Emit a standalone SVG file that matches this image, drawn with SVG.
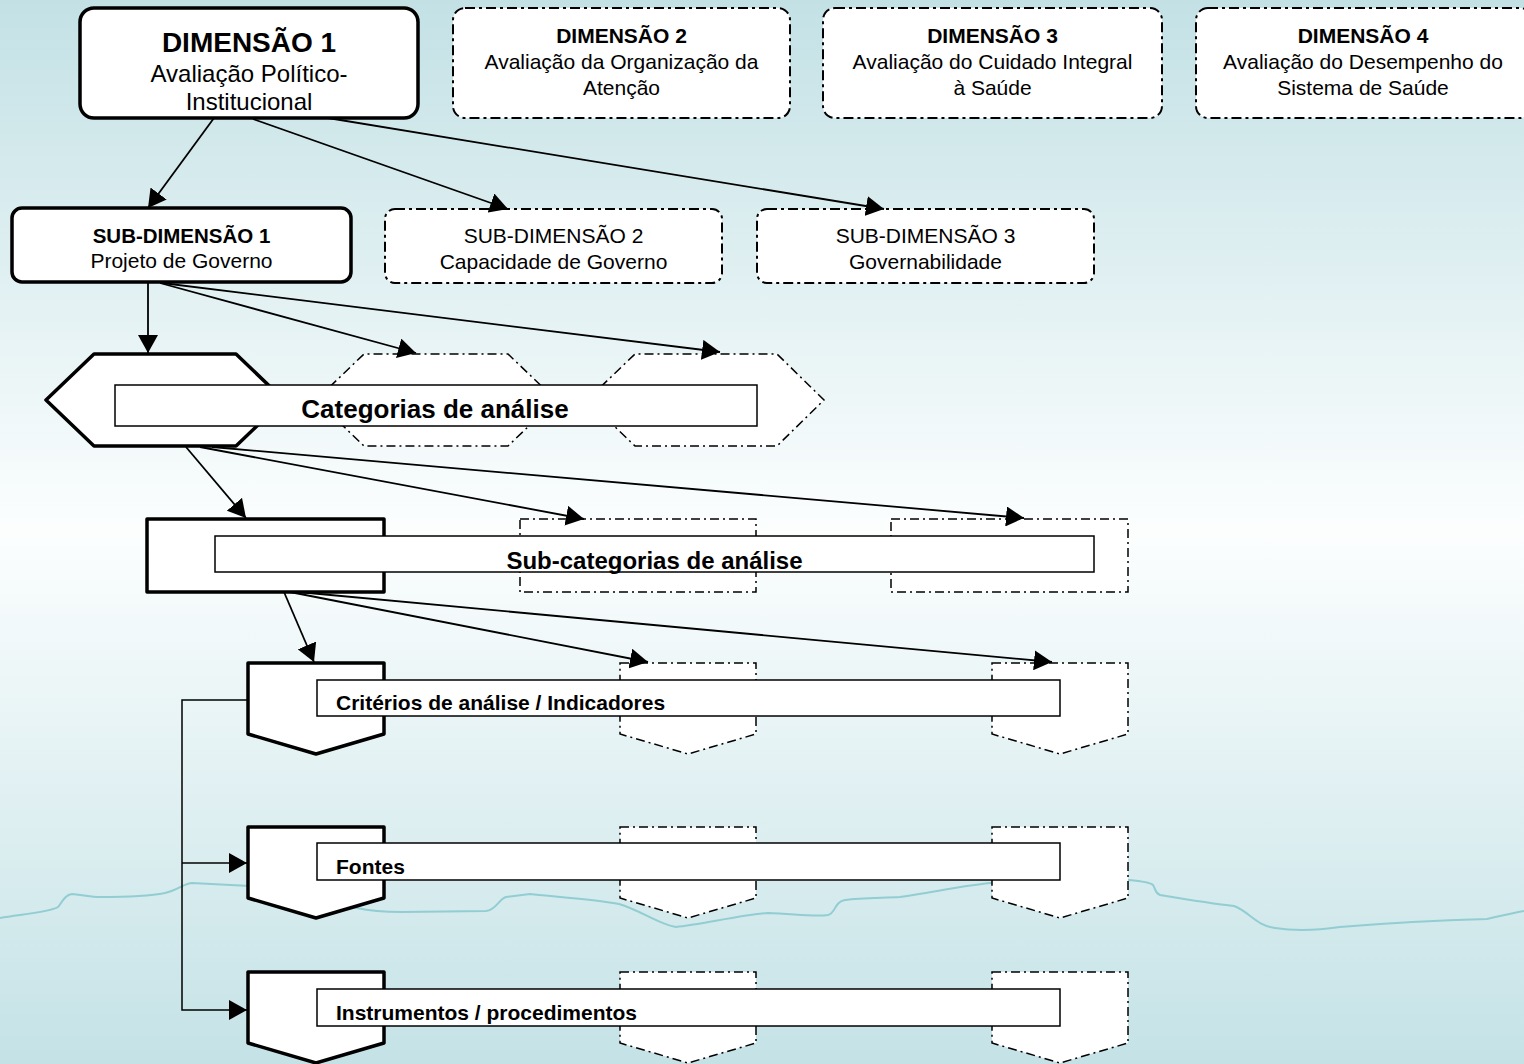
<svg xmlns="http://www.w3.org/2000/svg" width="1524" height="1064" viewBox="0 0 1524 1064">
<defs>
<linearGradient id="bg" x1="0" y1="0" x2="0" y2="1">
<stop offset="0" stop-color="#c3e1e5"/>
<stop offset="0.5" stop-color="#fcfefe"/>
<stop offset="1" stop-color="#c4e2e6"/>
</linearGradient>
<marker id="arr" viewBox="0 0 18 20" refX="18" refY="10" markerWidth="18" markerHeight="20" markerUnits="userSpaceOnUse" orient="auto">
<path d="M0,0 L18,10 L0,20 Z" fill="#000"/>
</marker>
<style>
.solid{fill:#fff;stroke:#000;stroke-width:3.5;stroke-linejoin:round}
.dash{fill:#fff;stroke:#000;stroke-width:2;stroke-dasharray:10 4 3 4}
.dash2{fill:#fff;stroke:#000;stroke-width:1.5;stroke-dasharray:9 4 2 4}
.bar{fill:#fff;stroke:#000;stroke-width:1.5}
.conn{fill:none;stroke:#000;stroke-width:1.8;marker-end:url(#arr)}
.thin{fill:none;stroke:#000;stroke-width:1.5}
text{font-family:"Liberation Sans",Arial,sans-serif;fill:#000}
.c{text-anchor:middle}
.b{font-weight:bold}
</style>
</defs>
<rect x="0" y="0" width="1524" height="1064" fill="url(#bg)"/>
<path d="M0,918 C25,914 50,912 58,907 C62,903 64,895 72,894 C85,895 90,897 100,897 C130,897 150,896 165,893 C178,890 185,883 192,883 L250,886 L357,908 C370,911 385,912 402,912 L486,911 C496,910 499,899 506,897 L530,894 C560,897 600,900 619,904 C640,910 660,925 676,927 C700,925 740,915 768,913 C795,914 815,917 828,915 C836,913 834,902 845,900 C860,898 880,898 900,897 C930,893 960,886 990,883 L1129,880 C1140,881 1150,882 1153,885 C1156,890 1155,893 1160,895 C1190,900 1215,904 1234,906 C1250,912 1255,925 1275,928 C1300,932 1320,930 1340,927 C1400,922 1450,920 1487,919 C1500,916 1512,913 1524,911" fill="none" stroke="#92cdd2" stroke-width="2"/>

<g id="dim1"><rect class="solid" x="80" y="8" width="338" height="110" rx="14"/>
<text class="c b" x="249" y="52" font-size="28">DIMENSÃO 1</text>
<text class="c" x="249" y="82" font-size="24">Avaliação Político-</text>
<text class="c" x="249" y="110" font-size="24">Institucional</text></g>
<g id="dim2"><rect class="dash" x="453" y="8" width="337" height="110" rx="12"/>
<text class="c b" x="621.5" y="43" font-size="21">DIMENSÃO 2</text>
<text class="c" x="621.5" y="69" font-size="21">Avaliação da Organização da</text>
<text class="c" x="621.5" y="95" font-size="21">Atenção</text></g>
<g id="dim3"><rect class="dash" x="823" y="8" width="339" height="110" rx="12"/>
<text class="c b" x="992.5" y="43" font-size="21">DIMENSÃO 3</text>
<text class="c" x="992.5" y="69" font-size="21">Avaliação do Cuidado Integral</text>
<text class="c" x="992.5" y="95" font-size="21">à Saúde</text></g>
<g id="dim4"><rect class="dash" x="1196" y="8" width="336" height="110" rx="12"/>
<text class="c b" x="1363" y="43" font-size="21">DIMENSÃO 4</text>
<text class="c" x="1363" y="69" font-size="21">Avaliação do Desempenho do</text>
<text class="c" x="1363" y="95" font-size="21">Sistema de Saúde</text></g>

<g id="sub1"><rect class="solid" x="12" y="208" width="339" height="74" rx="10"/>
<text class="c b" x="181.5" y="243" font-size="20.5">SUB-DIMENSÃO 1</text>
<text class="c" x="181.5" y="268" font-size="21">Projeto de Governo</text></g>
<g id="sub2"><rect class="dash" x="385" y="209" width="337" height="74" rx="10"/>
<text class="c" x="553.5" y="243" font-size="21">SUB-DIMENSÃO 2</text>
<text class="c" x="553.5" y="269" font-size="21">Capacidade de Governo</text></g>
<g id="sub3"><rect class="dash" x="757" y="209" width="337" height="74" rx="10"/>
<text class="c" x="925.5" y="243" font-size="21">SUB-DIMENSÃO 3</text>
<text class="c" x="925.5" y="269" font-size="21">Governabilidade</text></g>

<g id="cat1"><path class="solid" d="M46,400 L94,354 L236,354 L284,400 L236,446 L94,446 Z"/></g>
<g id="cat2"><path class="dash2" d="M316,400 L364,354 L508,354 L556,400 L508,446 L364,446 Z"/></g>
<g id="cat3"><path class="dash2" d="M587,400 L635,354 L777,354 L824,400 L777,446 L635,446 Z"/></g>
<g id="cat-label"><rect class="bar" x="115" y="385" width="642" height="41"/>
<text class="c b" x="435" y="418" font-size="26">Categorias de análise</text></g>

<g id="subcat1"><rect class="solid" x="147" y="519" width="237" height="73"/></g>
<g id="subcat2"><rect class="dash2" x="520" y="519" width="236" height="73"/></g>
<g id="subcat3"><rect class="dash2" x="891" y="519" width="237" height="73"/></g>
<g id="subcat-label"><rect class="bar" x="215" y="536" width="879" height="36"/>
<text class="c b" x="654.5" y="569" font-size="24">Sub-categorias de análise</text></g>

<g id="crit1"><path class="solid" d="M248,663 H384 V734 L316,754 L248,734 Z"/></g>
<g id="crit2"><path class="dash2" d="M620,663 H756 V734 L688,754 L620,734 Z"/></g>
<g id="crit3"><path class="dash2" d="M992,663 H1128 V734 L1060,754 L992,734 Z"/></g>
<g id="crit-label"><rect class="bar" x="317" y="680" width="743" height="36"/>
<text class="b" x="336" y="710" font-size="21">Critérios de análise / Indicadores</text></g>

<g id="font1"><path class="solid" d="M248,827 H384 V898 L316,918 L248,898 Z"/></g>
<g id="font2"><path class="dash2" d="M620,827 H756 V898 L688,918 L620,898 Z"/></g>
<g id="font3"><path class="dash2" d="M992,827 H1128 V898 L1060,918 L992,898 Z"/></g>
<g id="font-label"><rect class="bar" x="317" y="843" width="743" height="37"/>
<text class="b" x="336" y="874" font-size="21">Fontes</text></g>

<g id="inst1"><path class="solid" d="M248,972 H384 V1043 L316,1063 L248,1043 Z"/></g>
<g id="inst2"><path class="dash2" d="M620,972 H756 V1043 L688,1063 L620,1043 Z"/></g>
<g id="inst3"><path class="dash2" d="M992,972 H1128 V1043 L1060,1063 L992,1043 Z"/></g>
<g id="inst-label"><rect class="bar" x="317" y="989" width="743" height="37"/>
<text class="b" x="336" y="1020" font-size="21">Instrumentos / procedimentos</text></g>

<g id="connectors">
<line class="conn" x1="214" y1="118" x2="148" y2="208"/>
<line class="conn" x1="253" y1="119" x2="508" y2="209"/>
<line class="conn" x1="328" y1="118" x2="884" y2="209"/>
<line class="conn" x1="148" y1="283" x2="148" y2="353"/>
<line class="conn" x1="160" y1="283" x2="416" y2="353"/>
<line class="conn" x1="162" y1="283" x2="720" y2="352"/>
<line class="conn" x1="186" y1="447" x2="246" y2="518"/>
<line class="conn" x1="200" y1="447" x2="584" y2="519"/>
<line class="conn" x1="212" y1="447" x2="1024" y2="518"/>
<line class="conn" x1="284" y1="592" x2="314" y2="662"/>
<line class="conn" x1="290" y1="592" x2="648" y2="662"/>
<line class="conn" x1="298" y1="592" x2="1052" y2="662"/>
<path class="thin" d="M248,700 H182 V1010 H247" marker-end="url(#arr)"/>
<path class="thin" d="M182,863 H247" marker-end="url(#arr)"/>
</g>
</svg>
